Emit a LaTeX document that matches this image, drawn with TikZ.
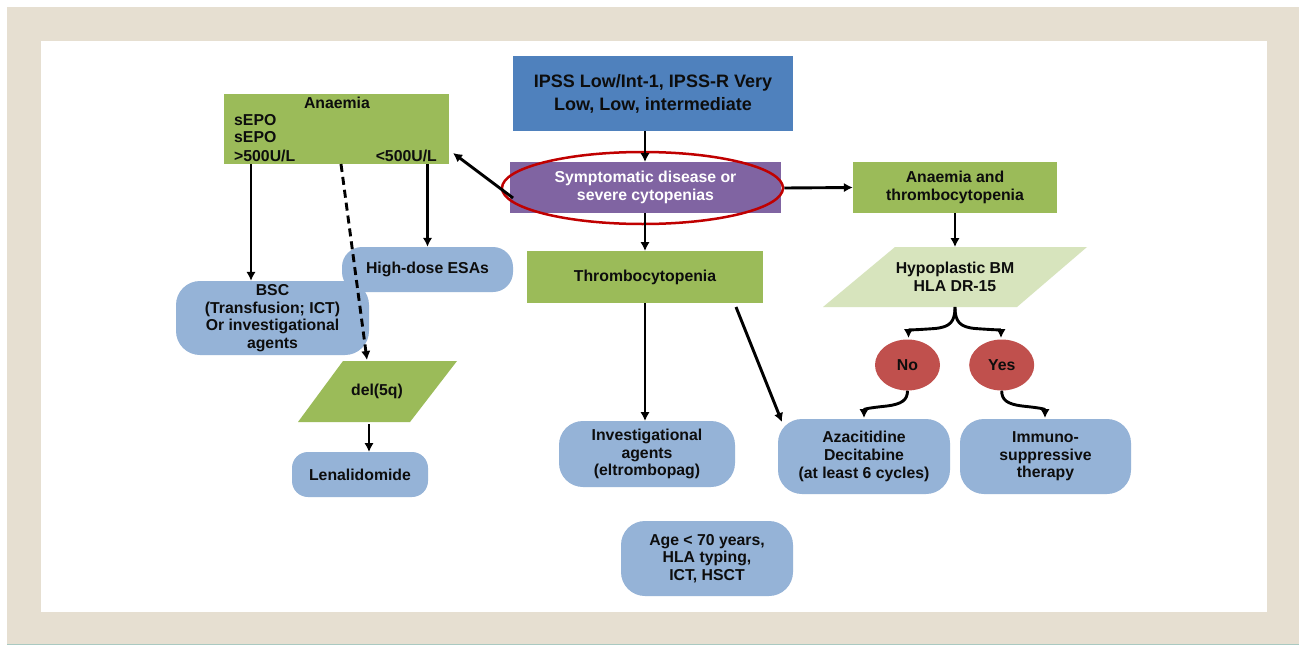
\documentclass[tikz,border=0pt]{standalone}
\usepackage{fontspec}
\setmainfont{Liberation Sans}
\usetikzlibrary{arrows.meta,calc,shapes.geometric}
\definecolor{beige}{HTML}{E6DFD1}
\definecolor{teal}{HTML}{A9C9C1}
\definecolor{tblue}{HTML}{4F81BD}
\definecolor{purp}{HTML}{8064A2}
\definecolor{grn}{HTML}{9BBB59}
\definecolor{lblue}{HTML}{95B3D7}
\definecolor{lgrn}{HTML}{D7E4BD}
\definecolor{redf}{HTML}{C0504D}
\definecolor{ellred}{HTML}{C00000}
\definecolor{txt}{HTML}{0D0D0D}
\begin{document}
\begin{tikzpicture}[x=1pt,y=-1pt,
  font=\bfseries\fontsize{15.8}{17.6}\selectfont,
  box/.style={inner sep=0pt, align=center, text=txt},
  sqbox/.style={box, fill=#1},
  rbox/.style={box, fill=lblue, rounded corners=24pt},
  oval/.style={box, ellipse, fill=redf, minimum width=65pt, minimum height=51pt},
  arr/.style={line width=2.9pt, -{Latex[length=9pt,width=9.5pt]}},
  darr/.style={arr, dash pattern=on 8pt off 5pt}]
\useasboundingbox (0,0) rectangle (1299,645);
\fill[beige] (7,7) rectangle (1299,644);
\fill[white] (40.5,40.5) rectangle (1267,612);
\fill[teal] (7,644) rectangle (1299,645);

% top
\node[sqbox=tblue, minimum width=280pt, minimum height=75pt, font=\bfseries\fontsize{18}{23}\selectfont] (title) at (653,93.5) {IPSS Low/Int-1, IPSS-R Very\\Low, Low, intermediate};
\node[sqbox=purp, text=white, minimum width=271pt, minimum height=51pt, font=\bfseries\fontsize{15.8}{18.7}\selectfont] (sym) at (645.5,187.5) {Symptomatic disease or\\severe cytopenias};
\node[draw=ellred, line width=2.5pt, ellipse, minimum width=281pt, minimum height=72pt, inner sep=0pt] (symell) at (642.5,188) {};

% anaemia branch
\node[sqbox=grn, minimum width=225pt, minimum height=70pt] (anaemia) at (336.5,129) {};
\node[box, anchor=base] (an1) at (337,108.7) {Anaemia};
\node[box, anchor=base west] (an2) at (234,125.6) {sEPO};
\node[box, anchor=base west] (an3) at (234,142.6) {sEPO};
\node[box, anchor=base west] (an4) at (234,161) {>500U/L};
\node[box, anchor=base east] (an5) at (437,161) {<500U/L};

\node[rbox, rounded corners=20pt, minimum width=171pt, minimum height=45pt] (esa) at (427.5,269.5) {High-dose ESAs};
\node[rbox, minimum width=193pt, minimum height=74pt] (bsc) at (272.5,318) {BSC\\(Transfusion; ICT)\\Or investigational\\agents};
\fill[grn] (343,361) -- (457,361) -- (410,422) -- (298,422) -- cycle;
\node[box] (del) at (377,391.5) {del(5q)};
\node[rbox, rounded corners=16pt, minimum width=136pt, minimum height=45pt] (len) at (360,474.5) {Lenalidomide};

% thrombocytopenia branch
\node[sqbox=grn, minimum width=236pt, minimum height=52pt] (thr) at (645,277) {Thrombocytopenia};
\node[rbox, minimum width=176pt, minimum height=66pt] (inv) at (647,454) {Investigational\\agents\\(eltrombopag)};
\node[rbox, minimum width=172pt, minimum height=75pt] (age) at (707,558.5) {Age < 70 years,\\HLA typing,\\ICT, HSCT};

% anaemia and thrombocytopenia branch
\node[sqbox=grn, minimum width=204pt, minimum height=51pt] (at) at (955,187.5) {Anaemia and\\thrombocytopenia};
\fill[lgrn] (895,247) -- (1087,247) -- (1017,307) -- (823,307) -- cycle;
\node[box] (hyp) at (955,277) {Hypoplastic BM\\HLA DR-15};
\node[oval] (no) at (907.5,365) {No};
\node[oval] (yes) at (1001.7,365) {Yes};
\node[rbox, minimum width=172pt, minimum height=75pt] (aza) at (864,456.5) {Azacitidine\\Decitabine\\(at least 6 cycles)};
\node[rbox, minimum width=171pt, minimum height=75pt] (imm) at (1045.5,456.5) {Immuno-\\suppressive\\therapy};

% coordinates
\coordinate (symL) at (513,198);
\coordinate (anR) at (453,153);
\coordinate (anBL) at (251,164);
\coordinate (anDash) at (341,164);
\coordinate (delT) at (367,360);
\coordinate (delB) at (369,424);
\coordinate (lenT) at (369,452);
\coordinate (thrR) at (736,307);
\coordinate (azaT) at (782,422);
\coordinate (hypT) at (955,247);
\coordinate (hypB) at (955,307);
\coordinate (azaC) at (864,418);
\coordinate (immC) at (1045,418);
\coordinate (noT) at (908.5,338);
\coordinate (yesT) at (1001,338);

% connectors
\draw[arr] (title.south -| 645,0) -- (645,162);
\draw[arr] (symL) -- (anR);
\draw[arr] (anBL) -- (anBL |- bsc.north);
\draw[arr] (anaemia.south -| esa.north) -- (esa.north);
\draw[darr] (anDash) -- (delT);
\draw[arr] (delB) -- (lenT);
\draw[arr] (645,213) -- (645,251);
\draw[arr] (thr.south -| 645,0) -- (645,421);
\draw[arr] (thrR) -- (azaT);
\draw[arr] (symell.east) -- (at.west);
\draw[arr] (at.south) -- (hypT);
\draw[arr] (hypB) .. controls (955,322) and (950,327) .. (935,328.5) .. controls (914,330) and (908.5,330) .. (noT);
\draw[arr] (hypB) .. controls (955,322) and (960,327) .. (975,328.5) .. controls (996,330) and (1001,330) .. (yesT);
\draw[arr] (no.south) .. controls (907.5,400) and (902,404) .. (887,406) .. controls (868,408) and (864,409) .. (azaC);
\draw[arr] (yes.south) .. controls (1001.7,400) and (1007,404) .. (1022,406) .. controls (1041,408) and (1045,409) .. (immC);
\end{tikzpicture}
\end{document}
